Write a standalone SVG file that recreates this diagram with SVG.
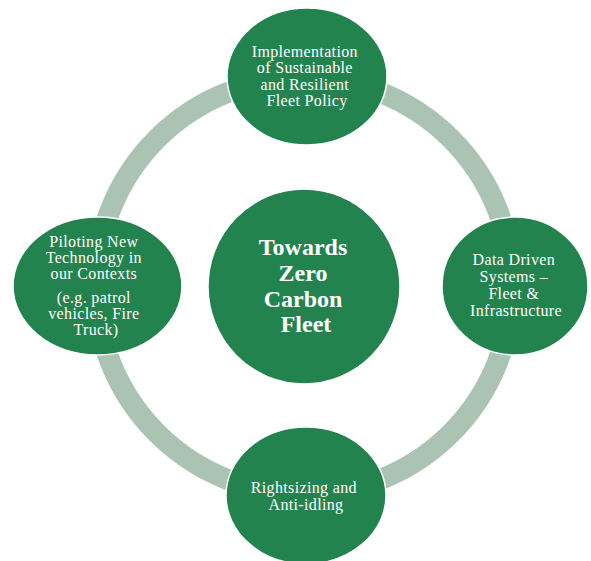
<svg xmlns="http://www.w3.org/2000/svg" width="591" height="561" viewBox="0 0 591 561">
  <style>
    .ring { fill: none; stroke: #abc3b3; stroke-width: 21; }
    .node { fill: #23834e; stroke: #ffffff; stroke-width: 1.5; }
    .lbl { font-family: "Liberation Serif", "Times New Roman", serif; font-size: 16px; letter-spacing: 0.35px; fill: #ffffff; text-anchor: middle; }
    .hub { font-family: "Liberation Serif", "Times New Roman", serif; font-size: 24px; font-weight: bold; fill: #ffffff; text-anchor: middle; }
  </style>
  <rect width="591" height="561" fill="#ffffff"/>

  <!-- connecting ring linking the four outer nodes -->
  <g id="connectors">
    <circle class="ring" cx="304" cy="286" r="208"/>
  </g>

  <g id="hub">
    <ellipse class="node" cx="304" cy="286.5" rx="96" ry="97.5"/>
    <text class="hub">
      <tspan x="306" y="255">Towards</tspan>
      <tspan x="306" y="281">Zero</tspan>
      <tspan x="306" y="307">Carbon</tspan>
      <tspan x="306" y="332">Fleet</tspan>
    </text>
  </g>

  <g id="policy">
    <ellipse class="node" cx="307" cy="76.5" rx="80" ry="68.5"/>
    <text class="lbl">
      <tspan x="307" y="57">Implementation</tspan>
      <tspan x="307" y="73">of Sustainable</tspan>
      <tspan x="307" y="89.5">and Resilient</tspan>
      <tspan x="307" y="106">Fleet Policy</tspan>
    </text>
  </g>

  <g id="data">
    <ellipse class="node" cx="515" cy="286" rx="73" ry="69"/>
    <text class="lbl">
      <tspan x="516" y="265">Data Driven</tspan>
      <tspan x="516" y="282">Systems –</tspan>
      <tspan x="516" y="298.5">Fleet &amp;</tspan>
      <tspan x="516" y="316">Infrastructure</tspan>
    </text>
  </g>

  <g id="rightsizing">
    <ellipse class="node" cx="306" cy="495.5" rx="80" ry="68.5"/>
    <text class="lbl">
      <tspan x="306" y="493">Rightsizing and</tspan>
      <tspan x="306" y="510">Anti-idling</tspan>
    </text>
  </g>

  <g id="piloting">
    <ellipse class="node" cx="97.5" cy="286" rx="84.5" ry="69"/>
    <text class="lbl">
      <tspan x="96" y="247">Piloting New</tspan>
      <tspan x="96" y="263">Technology in</tspan>
      <tspan x="96" y="279">our Contexts</tspan>
      <tspan x="96" y="302.5">(e.g. patrol</tspan>
      <tspan x="96" y="319">vehicles, Fire</tspan>
      <tspan x="96" y="335">Truck)</tspan>
    </text>
  </g>
</svg>
